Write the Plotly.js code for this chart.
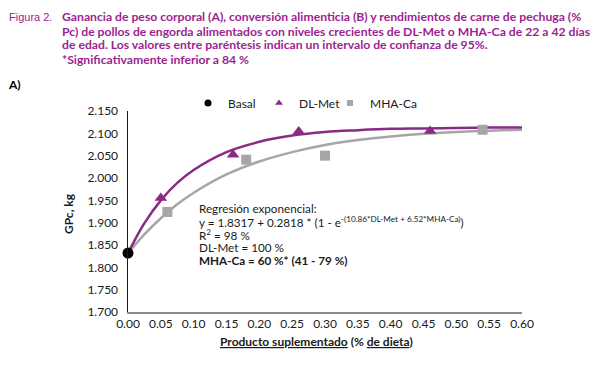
<!DOCTYPE html>
<html>
<head>
<meta charset="utf-8">
<script src="https://cdn.plot.ly/plotly-3.0.1.min.js"></script>
<style>html,body{margin:0;padding:0;background:#fff;}#chart{width:594px;height:369px;}</style>
</head>
<body>
<div id="chart"></div>
<script>
// Observed points
const basalX = [0.0];
const basalY = [1.832];
const dlMetX = [0.05, 0.16, 0.26, 0.46];
const dlMetY = [1.955, 2.052, 2.104, 2.105];
const mhaX = [0.06, 0.18, 0.30, 0.54];
const mhaY = [1.924, 2.041, 2.050, 2.108];
// Fitted curves
const curveX = [0, 0.025, 0.05, 0.075, 0.1, 0.15, 0.2, 0.25, 0.3, 0.35, 0.4, 0.45, 0.5, 0.55, 0.6];
const dlMetFit = [1.832, 1.899, 1.950, 1.989, 2.018, 2.058, 2.081, 2.095, 2.103, 2.107, 2.110, 2.111, 2.112, 2.113, 2.113];
const mhaFit = [1.832, 1.874, 1.910, 1.941, 1.967, 2.008, 2.037, 2.058, 2.074, 2.085, 2.093, 2.099, 2.103, 2.106, 2.108];
const yTicks = [1.70, 1.75, 1.80, 1.85, 1.90, 1.95, 2.00, 2.05, 2.10, 2.15];
const xTicks = [0, 0.05, 0.1, 0.15, 0.2, 0.25, 0.3, 0.35, 0.4, 0.45, 0.5, 0.55, 0.6];
const seriesNames = ['Basal', 'DL-Met', 'MHA-Ca'];

const captionLines = [
  'Ganancia de peso corporal (A), conversión alimenticia (B) y rendimientos de carne de pechuga (%',
  'Pc) de pollos de engorda alimentados con niveles crecientes de DL-Met o MHA-Ca de 22 a 42 días',
  'de edad. Los valores entre paréntesis indican un intervalo de confianza de 95%.',
  '*Significativamente inferior a 84 %'
];
const regLines = [
  'Regresión exponencial:',
  'y = 1.8317 + 0.2818 * (1 - e<sup>-(10.86*DL-Met + 6.52*MHA-Ca)</sup>)',
  'R<sup>2</sup> = 98 %',
  'DL-Met = 100 %',
  '<b>MHA-Ca = 60 %* (41 - 79 %)</b>'
];

const PURPLE = '#8a2a87';
const GRAY = '#a6a6a6';
const TITLE = '#9c2490';
const FONT = 'Lato, "Open Sans", sans-serif';

const L = 128, R = 72, T = 111, B = 57;
const W = 594, H = 369;
const pw = W - L - R, ph = H - T - B;
const px = p => (p - L) / pw;
const py = p => (H - B - p) / ph;

const traces = [
  {x: curveX, y: mhaFit, mode: 'lines', line: {color: GRAY, width: 2.5, shape: 'spline'}, showlegend: false, hoverinfo: 'skip'},
  {x: curveX, y: dlMetFit, mode: 'lines', line: {color: PURPLE, width: 2.5, shape: 'spline'}, showlegend: false, hoverinfo: 'skip'},
  {x: mhaX, y: mhaY, mode: 'markers', name: seriesNames[2], showlegend: false, marker: {symbol: 'square', size: 10, color: GRAY}},
  {x: dlMetX, y: dlMetY, mode: 'markers', name: seriesNames[1], showlegend: false, marker: {symbol: 'triangle-up', size: 11, color: PURPLE}},
  {x: basalX, y: basalY, mode: 'markers', name: seriesNames[0], showlegend: false, marker: {symbol: 'circle', size: 11, color: '#000'}, cliponaxis: false},
  // legend entries with the small legend symbols of the reference
  {x: [null], y: [null], mode: 'markers', name: seriesNames[0], legend: 'legend', marker: {symbol: 'circle', size: 7, color: '#000'}},
  {x: [null], y: [null], mode: 'markers', name: seriesNames[1], legend: 'legend2', marker: {symbol: 'triangle-up', size: 7, color: PURPLE}},
  {x: [null], y: [null], mode: 'markers', name: seriesNames[2], legend: 'legend3', marker: {symbol: 'square', size: 6, color: GRAY}}
];

const annotations = [
  {xref: 'paper', yref: 'paper', x: px(7), y: py(17), xanchor: 'left', yanchor: 'middle', align: 'left',
   showarrow: false, text: 'Figura 2.', font: {family: '"Liberation Sans", Arial, sans-serif', size: 11, color: TITLE}},
  {xref: 'paper', yref: 'paper', x: px(6), y: py(85), xanchor: 'left', yanchor: 'middle',
   showarrow: false, text: '<b>A)</b>', font: {family: FONT, size: 12, color: '#000'}},
  {xref: 'paper', yref: 'paper', x: px(68), y: py(214), xanchor: 'center', yanchor: 'middle', textangle: -90,
   showarrow: false, text: '<b>GPc, kg</b>', font: {family: FONT, size: 12, color: '#1a1a1a'}},
  {xref: 'paper', yref: 'paper', x: px(316), y: py(341), xanchor: 'center', yanchor: 'middle',
   showarrow: false, text: '<b><u>Producto suplementado</u> (% <u>de dieta</u>)</b>', font: {family: FONT, size: 12, color: '#1a1a1a'}}
];
const capY = [17, 31, 45, 59];
captionLines.forEach((t, i) => annotations.push({
  xref: 'paper', yref: 'paper', x: px(61), y: py(capY[i]), xanchor: 'left', yanchor: 'middle', align: 'left',
  showarrow: false, borderpad: 0, text: '<b>' + t + '</b>', font: {family: FONT, size: 12.2, color: TITLE}
}));
const regY = [208, 221, 234, 247, 260];
regLines.forEach((t, i) => annotations.push({
  xref: 'paper', yref: 'paper', x: px(198), y: py(regY[i]), xanchor: 'left', yanchor: 'middle', align: 'left',
  showarrow: false, borderpad: 0, text: t, font: {family: FONT, size: 11.7, color: '#1a1a1a'}
}));

const legendBase = {orientation: 'h', xanchor: 'left', y: py(103), yanchor: 'middle',
  font: {family: FONT, size: 12, color: '#1a1a1a'}, bgcolor: 'rgba(0,0,0,0)', itemclick: false};

const layout = {
  width: W, height: H,
  margin: {l: L, r: R, t: T, b: B},
  paper_bgcolor: '#fff', plot_bgcolor: '#fff',
  font: {family: FONT, size: 12, color: '#1a1a1a'},
  showlegend: true,
  legend: Object.assign({}, legendBase, {x: px(188)}),
  legend2: Object.assign({}, legendBase, {x: px(259)}),
  legend3: Object.assign({}, legendBase, {x: px(330)}),
  xaxis: {range: [0, 0.6], tickvals: xTicks, tickformat: '.2f', showgrid: false, zeroline: false,
          showline: true, linecolor: '#8a8a8a', linewidth: 2, ticks: '', ticklen: 0,
          tickfont: {family: FONT, size: 12, color: '#1a1a1a'}, fixedrange: true},
  yaxis: {range: [1.7, 2.15], tickvals: yTicks, tickformat: '.3f', showgrid: false, zeroline: false,
          showline: true, linecolor: '#1a1a1a', linewidth: 1.5, ticks: '', ticklabelstandoff: 6,
          tickfont: {family: FONT, size: 12, color: '#1a1a1a'}, fixedrange: true},
  annotations: annotations
};

Plotly.newPlot('chart', traces, layout, {displayModeBar: false, staticPlot: true});
</script>
</body>
</html>
